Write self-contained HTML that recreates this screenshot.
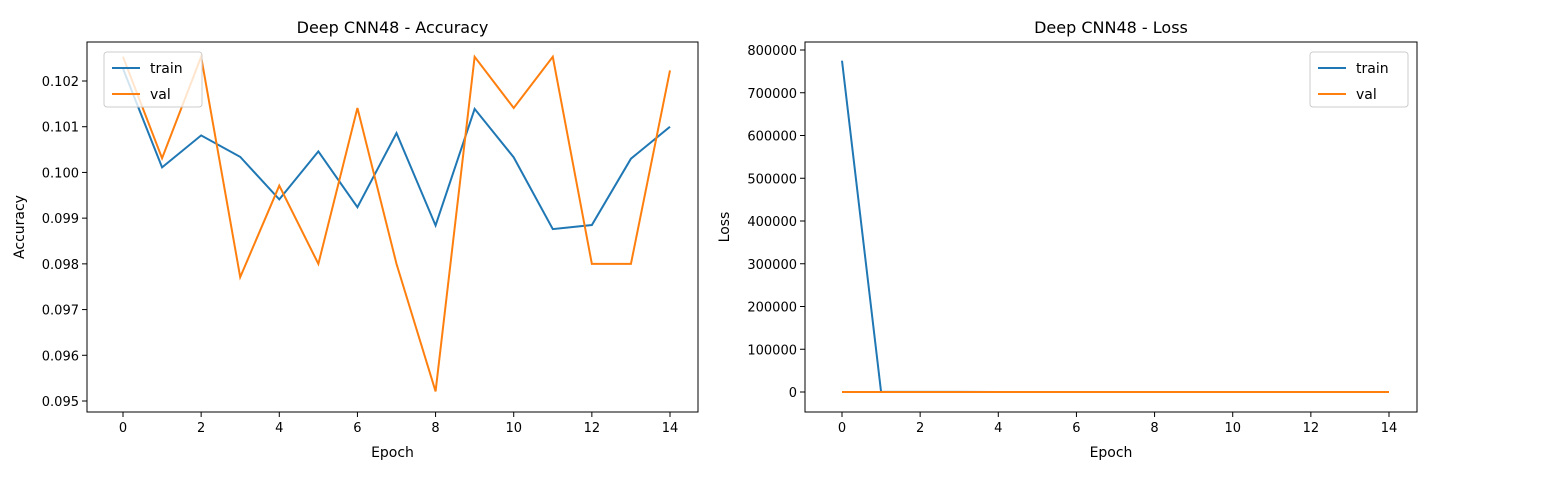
<!DOCTYPE html>
<html><head><meta charset="utf-8"><style>
body{margin:0;background:#fff;font-family:"Liberation Sans","DejaVu Sans",sans-serif;}
svg text{font-family:"DejaVu Sans","Liberation Sans",sans-serif;fill:#000;}
</style></head><body>
<svg id="chart" width="1563" height="478" xmlns="http://www.w3.org/2000/svg"></svg>
<script>
const epochs=[0,1,2,3,4,5,6,7,8,9,10,11,12,13,14];
const accTrain=[0.10227,0.10011,0.10081,0.10034,0.09941,0.10046,0.09924,0.10086,0.09884,0.10139,0.10033,0.09876,0.09885,0.10030,0.10100];
const accVal=[0.10253,0.10031,0.10253,0.09771,0.09971,0.09800,0.10141,0.09800,0.09521,0.10253,0.10141,0.10253,0.09800,0.09800,0.10223];
const lossTrain=[775000,300,200,150,120,100,90,80,70,60,50,40,30,20,10];
const lossVal=[2.3,2.3,2.3,2.3,2.3,2.3,2.3,2.3,2.3,2.3,2.3,2.3,2.3,2.3,2.3];
const xTicks=[0,2,4,6,8,10,12,14];
const accTicks=[0.095,0.096,0.097,0.098,0.099,0.100,0.101,0.102];
const lossTicks=[0,100000,200000,300000,400000,500000,600000,700000,800000];
const svg=document.getElementById('chart');
const NS='http://www.w3.org/2000/svg';
function mk(tag,attrs,parent){const e=document.createElementNS(NS,tag);for(const k in attrs)e.setAttribute(k,attrs[k]);(parent||svg).appendChild(e);return e;}
function panel(o){
  const g=mk('g',{});
  
  
  const xs=v=>o.x0+(v-0)/(14-0)*(o.x14-o.x0);
  const ys=v=>o.yA+(v-o.vA)/(o.vB-o.vA)*(o.yB-o.yA);
  const t=mk('text',{x:(o.L+o.R)/2,y:33,'text-anchor':'middle','font-size':'16'},g);t.textContent=o.title;
  
  xTicks.forEach(v=>{mk('line',{x1:xs(v),x2:xs(v),y1:o.B,y2:o.B+5,stroke:'#000','stroke-width':1},g);
    const tt=mk('text',{x:xs(v),y:o.B+20,'text-anchor':'middle','font-size':'13'},g);tt.textContent=v;
    });
  o.yTicks.forEach(v=>{mk('line',{x1:o.L-5,x2:o.L,y1:ys(v),y2:ys(v),stroke:'#000','stroke-width':1},g);
    const tt=mk('text',{x:o.L-8,y:ys(v)+5,'text-anchor':'end','font-size':'13'},g);tt.textContent=o.fmt(v);
    });
  const xl=mk('text',{x:(o.L+o.R)/2,y:457,'text-anchor':'middle','font-size':'14'},g);xl.textContent='Epoch';
  
  const yl=mk('text',{x:0,y:0,'text-anchor':'middle','font-size':'14',transform:`translate(${o.ylx},${(o.T+o.B)/2}) rotate(-90)`},g);yl.textContent=o.ylabel;
  
  [[o.train,'#1f77b4','train-line'],[o.val,'#ff7f0e','val-line']].forEach(([d,c,n])=>{
    const p=mk('polyline',{points:epochs.map((e,i)=>xs(e)+','+ys(d[i])).join(' '),fill:'none',stroke:c,'stroke-width':2,'stroke-linejoin':'miter'},g);
    });
  mk('rect',{x:o.L,y:o.T,width:o.R-o.L,height:o.B-o.T,fill:'none',stroke:'#000','stroke-width':1},g);
  const lg=mk('g',{},g);
  
  mk('rect',{x:o.lgx,y:52,width:98,height:55,rx:3,fill:'#fff','fill-opacity':0.8,stroke:'#ccc'},lg);
  [['train','#1f77b4',68],['val','#ff7f0e',94]].forEach(([n,c,y])=>{
    mk('line',{x1:o.lgx+8,x2:o.lgx+36,y1:y,y2:y,stroke:c,'stroke-width':2},lg);
    const tt=mk('text',{x:o.lgx+46,y:y+5,'font-size':'14'},lg);tt.textContent=n;
    });
}
panel({name:'accuracy-panel',title:'Deep CNN48 - Accuracy',L:87,R:698,T:42,B:412,x0:123,x14:670,vA:0.095,yA:401,vB:0.102,yB:81,
  yTicks:accTicks,fmt:v=>v.toFixed(3),ylabel:'Accuracy',ylx:24,train:accTrain,val:accVal,lgx:104});
panel({name:'loss-panel',title:'Deep CNN48 - Loss',L:805,R:1417,T:42,B:412,x0:842,x14:1389,vA:0,yA:392,vB:800000,yB:50,
  yTicks:lossTicks,fmt:v=>String(v),ylabel:'Loss',ylx:729,train:lossTrain,val:lossVal,lgx:1310});
</script>
</body></html>
